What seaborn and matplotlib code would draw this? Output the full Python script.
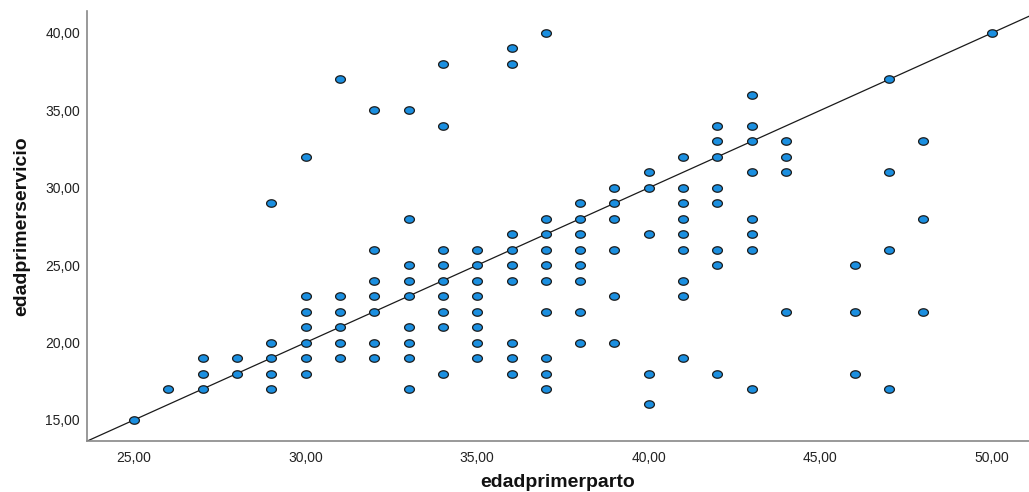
import numpy as np
import pandas as pd
import matplotlib
matplotlib.use("Agg")
import matplotlib.pyplot as plt
import seaborn as sns
from matplotlib.path import Path
from matplotlib.ticker import FuncFormatter

# --- data: edadprimerparto (x) -> list of edadprimerservicio (y) values ---
x_vals = [25, 26, 27, 28, 29, 30, 31, 32, 33, 34, 35, 36, 37, 38, 39, 40, 41, 42, 43, 44, 46, 47, 48, 50]
y_groups = [
    [15],
    [17],
    [17, 18, 19],
    [18, 19],
    [17, 18, 19, 20, 29],
    [18, 19, 20, 21, 22, 23, 32],
    [19, 20, 21, 22, 23, 37],
    [19, 20, 22, 23, 24, 26, 35],
    [17, 19, 20, 21, 23, 24, 25, 28, 35],
    [18, 21, 22, 23, 24, 25, 26, 34, 38],
    [19, 20, 21, 22, 23, 24, 25, 26],
    [18, 19, 20, 24, 25, 26, 27, 38, 39],
    [17, 18, 19, 22, 24, 25, 26, 27, 28, 40],
    [20, 22, 24, 25, 26, 27, 28, 29],
    [20, 23, 26, 28, 29, 30],
    [16, 18, 27, 30, 31],
    [19, 23, 24, 26, 27, 28, 29, 30, 32],
    [18, 25, 26, 29, 30, 32, 33, 34],
    [17, 26, 27, 28, 31, 33, 34, 36],
    [22, 31, 32, 33],
    [18, 22, 25],
    [17, 26, 31, 37],
    [22, 28, 33],
    [40],
]
ref_slope = 1.0
ref_point = (25, 15)
x_ticks = [25, 30, 35, 40, 45, 50]
y_ticks = [15, 20, 25, 30, 35, 40]

rows = [(x, y) for x, ys in zip(x_vals, y_groups) for y in ys]
df = pd.DataFrame(rows, columns=["edadprimerparto", "edadprimerservicio"])

sns.set_theme(style="white")
plt.rcParams["font.family"] = ["Liberation Sans", "DejaVu Sans"]

fig = plt.figure(figsize=(10.29, 4.92), dpi=100)
ax = fig.add_axes([87 / 1029, 1 - 441 / 492, 1 - 87 / 1029, (441 - 11) / 492])

# ellipse marker (slightly wider than tall)
t = np.linspace(0, 2 * np.pi, 40)
ell = Path(np.column_stack([np.cos(t), 0.76 * np.sin(t)]), closed=True)

ax.axline(ref_point, slope=ref_slope, color="#1a1a1a", lw=0.9, zorder=1)
sns.scatterplot(data=df, x="edadprimerparto", y="edadprimerservicio", ax=ax,
                marker=ell, s=50, color="#1b8fe0", edgecolor="#1a1a1a",
                linewidth=0.9, zorder=3)

ax.set_xlim(23.63, 51.08)
ax.set_ylim(13.64, 41.42)
ax.set_xticks(x_ticks)
ax.set_yticks(y_ticks)
fmt = FuncFormatter(lambda v, p: f"{v:.2f}".replace(".", ","))
ax.xaxis.set_major_formatter(fmt)
ax.yaxis.set_major_formatter(fmt)
ax.tick_params(axis="both", length=0, labelsize=10, colors="#222222")
ax.tick_params(axis="y", pad=5)
ax.tick_params(axis="x", pad=7)

for s in ["top", "right"]:
    ax.spines[s].set_visible(False)
for s in ["left", "bottom"]:
    ax.spines[s].set_color("#888888")
    ax.spines[s].set_linewidth(1.2)

ax.set_xlabel("edadprimerparto", fontsize=14, fontweight="bold", color="#111111", labelpad=7)
ax.set_ylabel("edadprimerservicio", fontsize=14, fontweight="bold", color="#111111", labelpad=11)
ax.grid(False)

fig.savefig("out.png", dpi=100)
